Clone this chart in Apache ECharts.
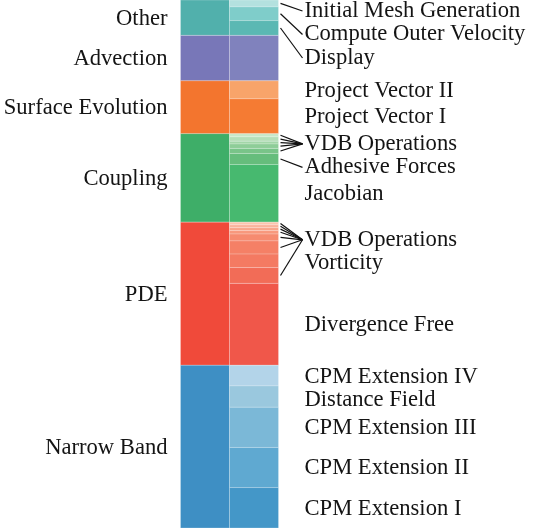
<!DOCTYPE html>
<html><head><meta charset="utf-8">
<script src="https://cdn.jsdelivr.net/npm/echarts@6/dist/echarts.min.js"></script>
<style>html,body{margin:0;padding:0;background:#fff}#c{width:540px;height:528px}</style>
</head><body><div id="c"></div>
<script>
// ---- data (share of total time, %) ----
const groups = ['Other', 'Advection', 'Surface Evolution', 'Coupling', 'PDE', 'Narrow Band'];

const otherNames = ['Initial Mesh Generation', 'Compute Outer Velocity', 'Display'];
const otherValues = [1.3, 2.6, 2.8];

const advectionNames = ['Advection'];
const advectionValues = [8.6];

const surfaceNames = ['Project Vector II', 'Project Vector I'];
const surfaceValues = [3.4, 6.6];

const couplingNames = ['VDB Operations', 'VDB Operations', 'VDB Operations', 'VDB Operations', 'VDB Operations', 'Adhesive Forces', 'Jacobian'];
const couplingValues = [0.6, 0.85, 0.5, 0.85, 0.95, 2.1, 10.9];

const pdeNames = ['VDB Operations', 'VDB Operations', 'VDB Operations', 'VDB Operations', 'VDB Operations', 'VDB Operations', 'Vorticity', 'VDB Operations', 'Divergence Free'];
const pdeValues = [0.5, 0.55, 0.55, 0.65, 1.3, 2.5, 2.55, 3.0, 15.5];

const narrowNames = ['CPM Extension IV', 'Distance Field', 'CPM Extension III', 'CPM Extension II', 'CPM Extension I'];
const narrowValues = [3.9, 4.05, 7.6, 7.6, 7.65];

// ---- styles ----
const groupColors = ['#51b0ac', '#7877b8', '#f3752e', '#3eae68', '#f04a3a', '#3e8fc4'];
const otherColors = ['#b3e1df', '#7fcdca', '#5bb8b3'];
const advectionColors = ['#8082bd'];
const surfaceColors = ['#f8a46a', '#f57b33'];
const couplingColors = ['#c8e7c9', '#b5deb9', '#a2d6a8', '#8ecd98', '#79c489', '#66bd7c', '#47b96f'];
const pdeColors = ['#fcc3ad', '#fbb39b', '#f9a58a', '#f8987c', '#f68b70', '#f58066', '#f47a62', '#f26c57', '#f0574a'];
const narrowColors = ['#b3d4e9', '#9ac8de', '#7bb8d7', '#5fa9d1', '#4497c8'];

const childNames = [otherNames, advectionNames, surfaceNames, couplingNames, pdeNames, narrowNames];
const childValues = [otherValues, advectionValues, surfaceValues, couplingValues, pdeValues, narrowValues];
const childColors = [otherColors, advectionColors, surfaceColors, couplingColors, pdeColors, narrowColors];

const FONT = '22.6px "Liberation Serif", "Times New Roman", serif';
const TEXT = '#141414';

// ---- build rect items from data ----
const rects = [];
const segs = [];
const groupSpans = [];
let cursor = 0;
groups.forEach((g, gi) => {
  const vals = childValues[gi];
  const total = vals.reduce((a, b) => a + b, 0);
  rects.push([0, 1, cursor, cursor + total, groupColors[gi]]);
  let c = cursor;
  vals.forEach((v, k) => {
    rects.push([1, 2, c, c + v, childColors[gi][k]]);
    segs.push({ gi: gi, name: childNames[gi][k], y0: c, y1: c + v });
    c += v;
  });
  groupSpans.push([cursor, cursor + total]);
  cursor += total;
});
const grand = cursor;

const chart = echarts.init(document.getElementById('c'), null, { renderer: 'canvas' });
chart.setOption({
  animation: false,
  backgroundColor: '#fff',
  grid: { left: 180.5, right: 261.5, top: 0, bottom: 0 },
  xAxis: { type: 'value', min: 0, max: 2, show: false },
  yAxis: { type: 'value', min: 0, max: grand, inverse: true, show: false },
  series: [{
    type: 'custom',
    data: rects.map(r => [r[0], r[1], r[2], r[3]]),
    encode: { x: [0, 1], y: [2, 3] },
    renderItem: function (params, api) {
      const p0 = api.coord([api.value(0), api.value(2)]);
      const p1 = api.coord([api.value(1), api.value(3)]);
      return {
        type: 'rect',
        shape: { x: p0[0], y: Math.min(p0[1], p1[1]), width: p1[0] - p0[0], height: Math.abs(p1[1] - p0[1]) },
        style: { fill: rects[params.dataIndex][4], stroke: 'rgba(255,255,255,0.28)', lineWidth: 0.8 }
      };
    }
  }]
});

// ---- labels ----
const px = (x, y) => chart.convertToPixel({ gridIndex: 0 }, [x, y]);
const graphics = [];
const leftX = px(0, 0)[0] - 13;
const barRight = px(2, 0)[0];

groups.forEach((g, gi) => {
  const yc = px(0, (groupSpans[gi][0] + groupSpans[gi][1]) / 2)[1] + 1;
  graphics.push({ type: 'text', style: { text: g, x: leftX, y: yc, font: FONT, fill: TEXT, align: 'right', verticalAlign: 'middle', textAlign: 'right', textVerticalAlign: 'middle' } });
});

// group child segments by label (name within parent)
const labels = [];
groups.forEach((g, gi) => {
  const map = {};
  segs.filter(s => s.gi === gi && s.name !== g).forEach(s => {
    if (!map[s.name]) { map[s.name] = { name: s.name, segs: [] }; labels.push(map[s.name]); }
    map[s.name].segs.push(s);
  });
});
labels.forEach(l => {
  l.centers = l.segs.map(s => px(2, (s.y0 + s.y1) / 2)[1]);
  l.desired = l.centers.reduce((a, b) => a + b, 0) / l.centers.length;
});
labels.sort((a, b) => a.desired - b.desired);
const GAP = 23.5, TOP = 10, BOTTOM = chart.getHeight() - 10;
let prev = -Infinity;
labels.forEach(l => { l.y = Math.max(l.desired, prev + GAP, TOP); prev = l.y; });
let next = Infinity;
for (let i = labels.length - 1; i >= 0; i--) { labels[i].y = Math.min(labels[i].y, next - GAP, BOTTOM); next = labels[i].y; }

const textX = barRight + 26;
labels.forEach(l => {
  graphics.push({ type: 'text', style: { text: l.name, x: textX, y: l.y + 1, font: FONT, fill: TEXT, align: 'left', verticalAlign: 'middle', textAlign: 'left', textVerticalAlign: 'middle' } });
  const s0 = l.segs[0];
  const top = px(2, s0.y0)[1], bot = px(2, s0.y1)[1];
  const needLine = l.segs.length > 1 || l.y < top || l.y > bot;
  if (needLine) {
    l.centers.forEach(cy => {
      graphics.push({ type: 'line', shape: { x1: barRight + 2, y1: cy, x2: textX - 2, y2: l.y + 1 }, style: { stroke: '#111', lineWidth: 1.2 } });
    });
  }
});

chart.setOption({ graphic: graphics });
</script>
</body></html>
